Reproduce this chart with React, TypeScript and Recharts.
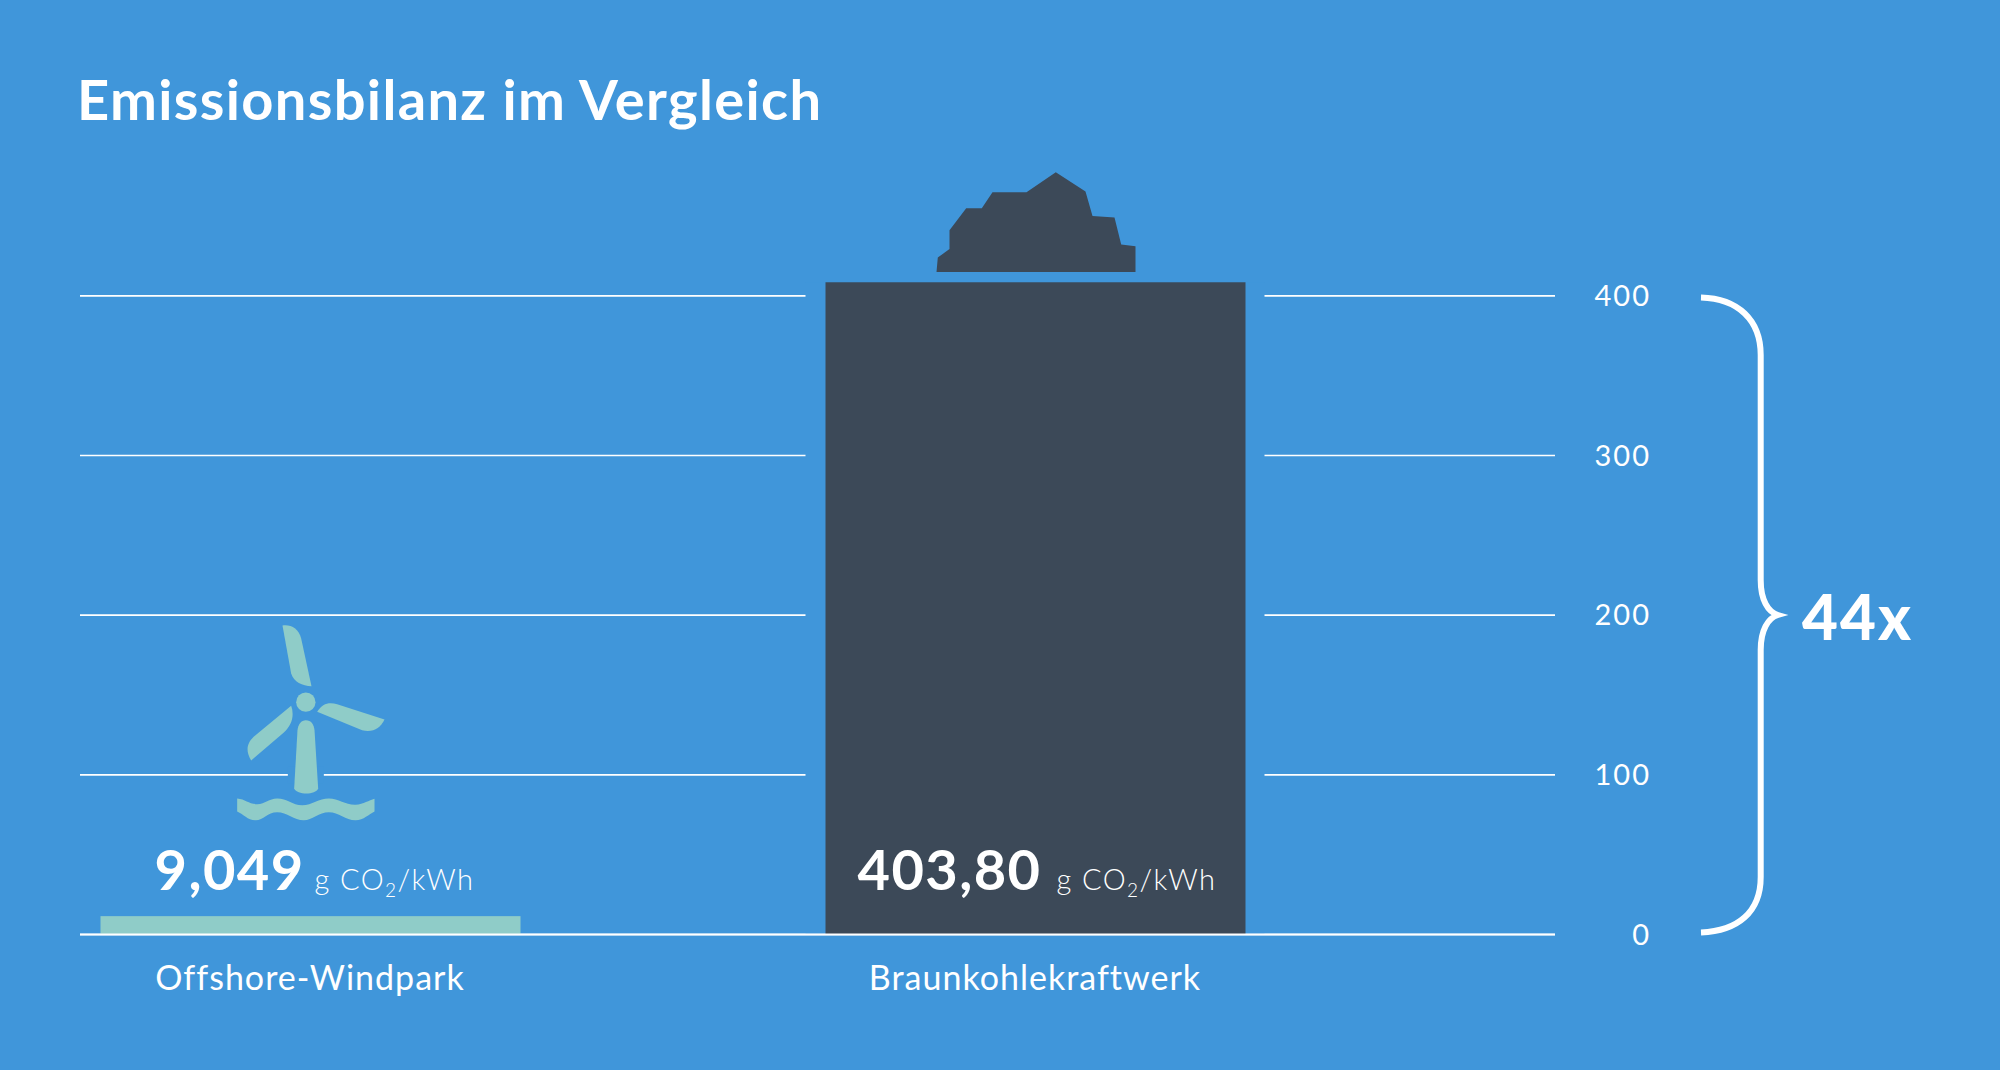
import { BarChart, Bar, XAxis, YAxis, CartesianGrid } from 'recharts'

const categories = ['Offshore-Windpark', 'Braunkohlekraftwerk']
// bar heights as drawn in the picture
const barValues = [11.5, 408.5]
const valueLabels = ['9,049', '403,80']
const barColors = ['#8FCCC8', '#3C4958']
const yTicks = [0, 100, 200, 300, 400]

const BG = '#4096DA'
const FONT = 'Lato, sans-serif'

const data = categories.map((name, i) => ({
  name,
  value: barValues[i],
  label: valueLabels[i],
  fill: barColors[i],
}))

const coalPoints = [
  [-99, -10.3], [-97.7, -24.7], [-86, -33.3], [-86, -52], [-69.3, -74], [-53.7, -74],
  [-43, -90], [-9, -90], [20.3, -110], [50, -90.7], [57, -66.3], [79, -64.7],
  [85.7, -37.7], [100, -36], [100, -10.3],
]

const WindIcon = ({ cx, top }: any) => (
  <g transform={`translate(${cx - 250},${top - 316}) scale(${1 / 3})`} fill="#8FCCC8">
    <rect x={682} y={500} width={108} height={50} fill={BG} />
    <path d="M666,76 C690,72 715,85 722,115 L753,258 C725,258 700,245 692,220 Z" />
    <path d="M770,335 C785,310 805,305 830,312 L972,358 C960,385 935,398 905,390 Z" />
    <path d="M692,317 C702,345 695,375 670,397 L572,481 C553,450 560,425 585,405 Z" />
    <path d="M736,360 C752,360 760,372 762,390 L773,565 C765,585 710,585 701,565 L711,390 C713,372 722,360 736,360 Z" />
    <circle cx={736} cy={306} r={29} />
    <path d="M530,595 C555,597 565,612 590,612 C615,612 625,595 650,595 C680,595 695,615 725,615 C755,615 775,595 805,595 C835,595 855,615 885,614 C910,613 925,600 942,596 L942,634 C925,642 910,660 885,660 C855,660 835,636 805,636 C775,636 755,660 730,660 C700,660 680,636 650,636 C620,636 610,660 585,660 C560,660 550,642 530,634 Z" />
  </g>
)

const BarShape = (props: any) => {
  const { x, y, width, height, index, payload } = props
  const cx = x + width / 2
  const bottom = y + height
  const isCoal = index === 1
  return (
    <g>
      {isCoal && <rect x={x - 20} y={y} width={width + 39} height={height - 1} fill={BG} />}
      <rect x={x} y={y} width={width} height={height} fill={payload.fill} />
      {isCoal ? (
        <polygon points={coalPoints.map(([dx, dy]) => `${cx + dx},${y + dy}`).join(' ')} fill={payload.fill} />
      ) : (
        <WindIcon cx={cx} top={y} />
      )}
      <text
        x={x + (isCoal ? 32 : 54)}
        y={bottom - 45}
        fill="#fff"
        fontFamily={FONT}
        fontWeight={700}
        fontSize={56}
        letterSpacing={1.4}
      >
        {payload.label}
      </text>
      <text
        x={x + (isCoal ? 231 : 214)}
        y={bottom - 45}
        fill="#fff"
        fontFamily={FONT}
        fontWeight={300}
        fontSize={29}
        letterSpacing={1.4}
      >
        g CO
        <tspan fontSize={19} dy={7}>2</tspan>
        <tspan dy={-7}>/kWh</tspan>
      </text>
    </g>
  )
}

const YTick = ({ y, payload }: any) => (
  <text x={1651} y={y + 10} textAnchor="end" fill="#fff" fontFamily={FONT} fontWeight={400} fontSize={29} letterSpacing={2}>
    {payload.value}
  </text>
)

const XTick = ({ x, payload }: any) => (
  <text x={x} y={990} textAnchor="middle" fill="#fff" fontFamily={FONT} fontWeight={400} fontSize={34} letterSpacing={1}>
    {payload.value}
  </text>
)

export default function App() {
  return (
    <div style={{ position: 'absolute', left: 0, top: 0, width: 2000, height: 1070, background: BG, overflow: 'hidden' }}>
      <BarChart
        width={2000}
        height={1070}
        data={data}
        barSize={420}
        margin={{ top: 216, right: 245, bottom: 55.5, left: 80 }}
      >
        <CartesianGrid vertical={false} horizontal horizontalValues={yTicks} stroke="#fff" strokeWidth={1.6} />
        <XAxis
          dataKey="name"
          height={80}
          padding={{ left: -132.5, right: 157.5 }}
          axisLine={{ stroke: '#fff', strokeWidth: 2 }}
          tickLine={false}
          tick={<XTick />}
          interval={0}
        />
        <YAxis
          orientation="right"
          width={200}
          domain={[0, 450]}
          ticks={yTicks}
          axisLine={false}
          tickLine={false}
          tick={<YTick />}
        />
        <Bar dataKey="value" shape={<BarShape />} isAnimationActive={false} />
        <text x={77} y={120} fill="#fff" fontFamily={FONT} fontWeight={700} fontSize={56} letterSpacing={1.35}>
          Emissionsbilanz im Vergleich
        </text>
        <path
          d="M1701,297.5 C1738,298.5 1760.7,320 1760.7,355 L1760.7,580 C1760.7,600 1768,612 1778,615 C1768,618 1760.7,630 1760.7,650 L1760.7,877 C1760.7,912 1738,931 1701,932.5"
          fill="none"
          stroke="#fff"
          strokeWidth={6}
        />
        <text x={1802} y={640} fill="#fff" fontFamily={FONT} fontWeight={900} fontSize={62} letterSpacing={2}>
          44x
        </text>
      </BarChart>
    </div>
  )
}
